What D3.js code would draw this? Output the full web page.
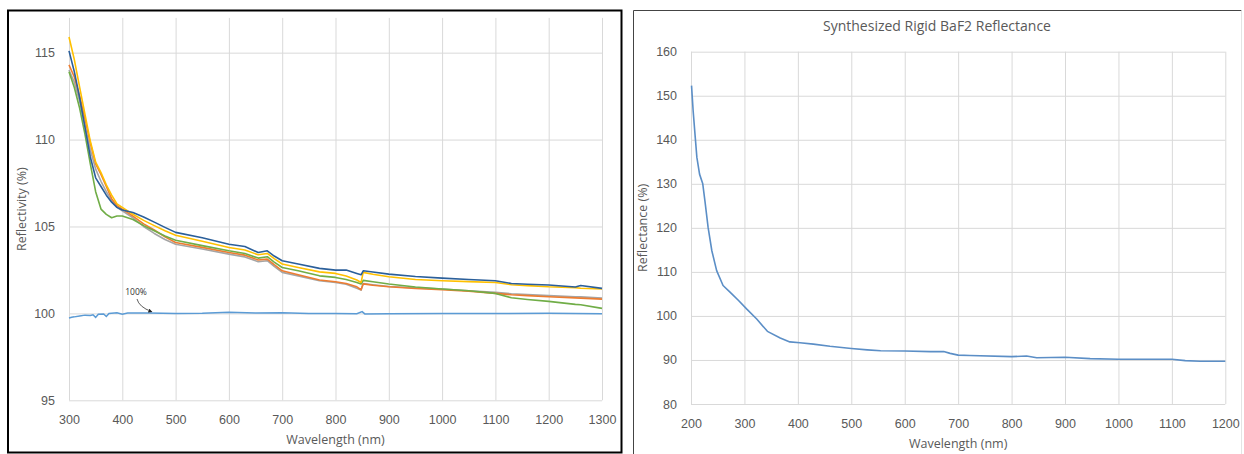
<!DOCTYPE html>
<html>
<head>
<meta charset="utf-8">
<script src="https://cdn.jsdelivr.net/npm/d3@7"></script>
<style>
  html, body { margin: 0; padding: 0; background: #ffffff; }
  svg { display: block; font-family: "Open Sans", "DejaVu Sans", sans-serif; }
  .tick line { stroke: #d9d9d9; }
  .tick text { fill: #595959; font-size: 12.5px; }
</style>
</head>
<body>
<svg id="chart" width="1244" height="454"></svg>
<script>
// ---------- Left chart data ----------
const leftXTicks = [300, 400, 500, 600, 700, 800, 900, 1000, 1100, 1200, 1300];
const leftYTicks = [95, 100, 105, 110, 115];
const leftWavelengths = [300,310,320,330,340,350,360,370,380,390,400,420,440,460,480,500,550,600,630,655,672,685,700,730,770,800,820,840,848,852,870,900,950,1000,1050,1100,1130,1160,1200,1250,1260,1300];
const seriesDarkBlue = [115.1,113.9,112.4,110.7,109.0,107.8,107.3,106.8,106.4,106.1,105.95,105.8,105.55,105.25,104.95,104.66,104.35,103.98,103.85,103.5,103.6,103.3,103.03,102.84,102.59,102.49,102.5,102.3,102.22,102.45,102.38,102.26,102.12,102.03,101.95,101.88,101.72,101.68,101.63,101.52,101.6,101.44];
const seriesYellow   = [115.9,114.6,113.0,111.45,109.9,108.7,108.1,107.4,106.8,106.3,106.1,105.7,105.35,105.05,104.75,104.5,104.15,103.79,103.65,103.37,103.45,103.15,102.84,102.64,102.39,102.3,102.15,101.92,101.78,102.36,102.25,102.11,101.95,101.88,101.83,101.78,101.65,101.6,101.53,101.48,101.45,101.4];
const seriesOrange   = [114.3,113.6,112.5,111.2,109.8,108.6,108.0,107.3,106.6,106.2,106.0,105.6,105.15,104.8,104.4,104.08,103.8,103.5,103.35,103.07,103.12,102.8,102.45,102.22,101.92,101.82,101.72,101.53,101.36,101.7,101.62,101.53,101.43,101.36,101.27,101.15,101.07,101.02,100.96,100.89,100.88,100.82];
const seriesGray     = [114.0,113.3,112.2,110.8,109.4,108.3,107.6,107.0,106.5,106.1,105.9,105.5,105.0,104.6,104.25,103.98,103.7,103.41,103.25,102.97,103.03,102.7,102.36,102.16,101.88,101.78,101.68,101.45,101.34,101.72,101.65,101.55,101.47,101.4,101.3,101.21,101.13,101.08,101.02,100.96,100.95,100.88];
const seriesGreen    = [113.9,113.0,111.8,110.3,108.6,107.0,106.0,105.7,105.5,105.6,105.6,105.4,105.05,104.75,104.45,104.21,103.9,103.6,103.45,103.18,103.26,102.95,102.64,102.45,102.16,102.07,101.95,101.78,101.69,101.9,101.82,101.69,101.52,101.4,101.3,101.15,100.9,100.8,100.69,100.52,100.5,100.29];
const ref100Wavelengths = [300,305,310,320,330,340,345,350,355,365,370,375,390,400,410,450,500,550,600,650,700,750,800,840,850,855,900,1000,1100,1200,1250,1300];
const ref100Values      = [99.73,99.78,99.8,99.85,99.9,99.88,99.92,99.77,99.95,99.97,99.82,100.0,100.03,99.95,100.02,100.02,100.0,100.01,100.06,100.02,100.03,100.0,99.99,99.98,100.1,99.97,99.98,100.0,99.99,100.01,100.0,99.98];

// ---------- Right chart data ----------
const rightXTicks = [200, 300, 400, 500, 600, 700, 800, 900, 1000, 1100, 1200];
const rightYTicks = [80, 90, 100, 110, 120, 130, 140, 150, 160];
const rightWavelengths = [201,204,208,211,216,222,226,232,239,248,260,273,289,304,323,343,367,385,404,429,460,500,530,555,600,648,673,685,700,722,800,828,847,900,947,1000,1100,1125,1153,1200];
const rightValues      = [152.3,146.6,140.5,136.0,132.2,130.0,126.2,120.1,114.8,110.3,106.9,105.4,103.5,101.6,99.3,96.5,95.0,94.1,93.9,93.6,93.1,92.6,92.3,92.1,92.05,91.9,91.9,91.5,91.1,91.0,90.75,90.9,90.5,90.6,90.3,90.15,90.15,89.85,89.7,89.7];

const svg = d3.select("#chart");

// ================= LEFT CHART =================
svg.append("rect").attr("x", 8).attr("y", 10.5).attr("width", 613.5).attr("height", 442)
  .attr("fill", "none").attr("stroke", "#000").attr("stroke-width", 2);

const lx = d3.scaleLinear().domain([300, 1300]).range([69, 602]);
const ly = d3.scaleLinear().domain([95, 117]).range([400.3, 17.9]);

// vertical gridlines + x labels
svg.append("g").attr("transform", `translate(0,${ly(95)})`)
  .call(d3.axisBottom(lx).tickValues(leftXTicks).tickSize(-(ly(95) - ly(117))).tickPadding(15).tickFormat(d3.format("d")))
  .call(g => g.select(".domain").remove());
// horizontal gridlines + y labels
svg.append("g").attr("transform", `translate(${lx(300)},0)`)
  .call(d3.axisLeft(ly).tickValues(leftYTicks).tickSize(-(lx(1300) - lx(300))).tickPadding(14).tickFormat(d3.format("d")))
  .call(g => g.select(".domain").remove());

svg.append("text").attr("x", (lx(300) + lx(1300)) / 2).attr("y", 444)
  .attr("text-anchor", "middle").attr("fill", "#595959").attr("font-size", 12.5).text("Wavelength (nm)");
svg.append("text").attr("transform", `translate(26,${(ly(95) + ly(117)) / 2}) rotate(-90)`)
  .attr("text-anchor", "middle").attr("fill", "#595959").attr("font-size", 12.5).text("Reflectivity (%)");

const leftLine = d3.line().x(d => lx(d[0])).y(d => ly(d[1]));
const leftSeries = [
  { vals: seriesGray, color: "#a5a5a5" },
  { vals: seriesOrange, color: "#ed7d31" },
  { vals: seriesGreen, color: "#70ad47" },
  { vals: seriesYellow, color: "#ffc000" },
  { vals: seriesDarkBlue, color: "#2b5f9a" }
];
svg.append("path").datum(d3.zip(ref100Wavelengths, ref100Values))
  .attr("d", leftLine).attr("fill", "none").attr("stroke", "#5b9bd5").attr("stroke-width", 1.5);
leftSeries.forEach(s => {
  svg.append("path").datum(d3.zip(leftWavelengths, s.vals))
    .attr("d", leftLine).attr("fill", "none").attr("stroke", s.color)
    .attr("stroke-width", 1.6).attr("stroke-linejoin", "round");
});

// annotation "100%"
const defs = svg.append("defs");
defs.append("marker").attr("id", "arrow").attr("viewBox", "0 0 10 10").attr("refX", 8).attr("refY", 5)
  .attr("markerWidth", 5).attr("markerHeight", 5).attr("orient", "auto")
  .append("path").attr("d", "M0,0 L10,5 L0,10 z").attr("fill", "#222");
svg.append("text").attr("x", 136).attr("y", 295).attr("text-anchor", "middle")
  .attr("font-size", 8.5).attr("fill", "#333").text("100%");
svg.append("path").attr("d", `M137,299 Q139,307 ${lx(455)},${ly(100.1)}`)
  .attr("fill", "none").attr("stroke", "#333").attr("stroke-width", 0.8).attr("marker-end", "url(#arrow)");

// ================= RIGHT CHART =================
svg.append("path").attr("d", "M633.5,454 L633.5,10.5 L1241.5,10.5")
  .attr("fill", "none").attr("stroke", "#444").attr("stroke-width", 1);
svg.append("path").attr("d", "M1241.5,10.5 L1241.5,454")
  .attr("fill", "none").attr("stroke", "#e4e4e4").attr("stroke-width", 1);

const rx = d3.scaleLinear().domain([200, 1200]).range([691, 1225.3]);
const ry = d3.scaleLinear().domain([80, 160]).range([404, 51.7]);

svg.append("g").attr("transform", `translate(0,${ry(80)})`)
  .call(d3.axisBottom(rx).tickValues(rightXTicks).tickSize(-(ry(80) - ry(160))).tickPadding(15).tickFormat(d3.format("d")))
  .call(g => g.select(".domain").remove());
svg.append("g").attr("transform", `translate(${rx(200)},0)`)
  .call(d3.axisLeft(ry).tickValues(rightYTicks).tickSize(-(rx(1200) - rx(200))).tickPadding(14).tickFormat(d3.format("d")))
  .call(g => g.select(".domain").remove());

svg.append("text").attr("x", 937).attr("y", 31).attr("text-anchor", "middle")
  .attr("fill", "#595959").attr("font-size", 14).text("Synthesized Rigid BaF2 Reflectance");
svg.append("text").attr("x", (rx(200) + rx(1200)) / 2).attr("y", 448)
  .attr("text-anchor", "middle").attr("fill", "#595959").attr("font-size", 12.5).text("Wavelength (nm)");
svg.append("text").attr("transform", `translate(647,${(ry(80) + ry(160)) / 2}) rotate(-90)`)
  .attr("text-anchor", "middle").attr("fill", "#595959").attr("font-size", 12.5).text("Reflectance (%)");

const rightLine = d3.line().x(d => rx(d[0])).y(d => ry(d[1]));
svg.append("path").datum(d3.zip(rightWavelengths, rightValues))
  .attr("d", rightLine).attr("fill", "none").attr("stroke", "#5b8ec6")
  .attr("stroke-width", 1.6).attr("stroke-linejoin", "round");
</script>
</body>
</html>
